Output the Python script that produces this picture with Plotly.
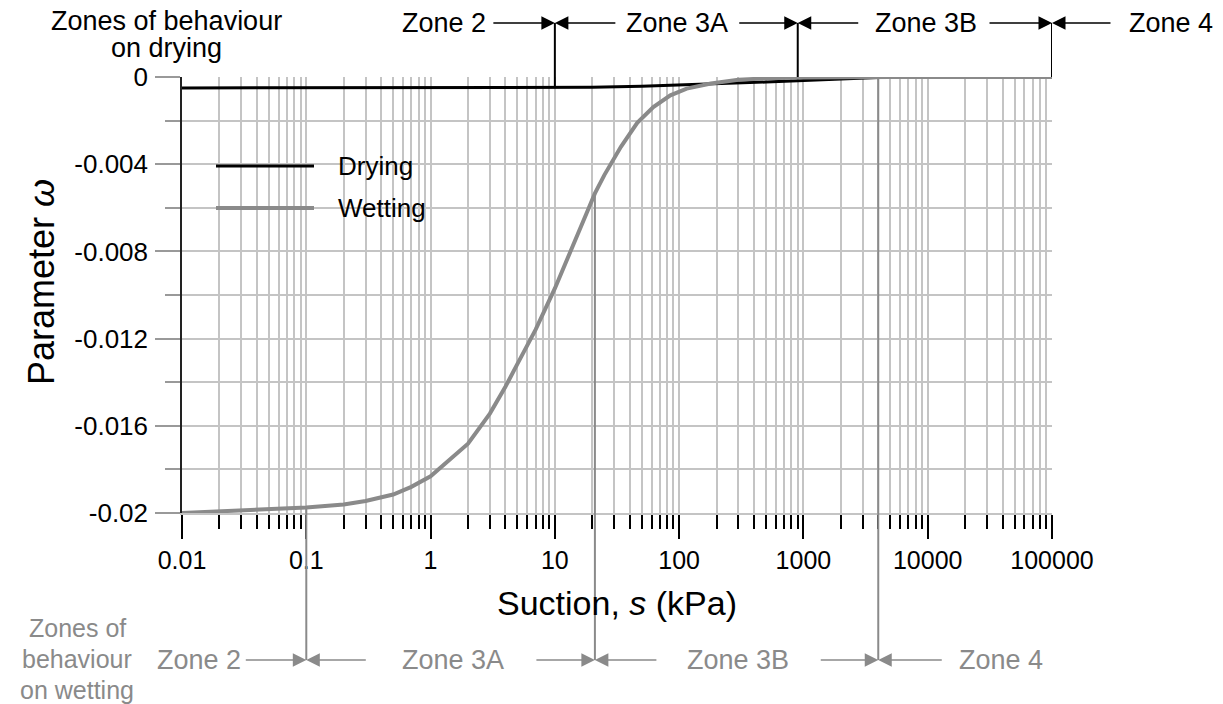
import plotly.graph_objects as go
import math

# ---------------- data ----------------
dry_s = [0.01, 0.1, 1, 3, 10, 20, 50, 100, 200, 500, 900, 2000, 4000, 10000, 100000]
dry_w = [-0.0005, -0.0005, -0.0005, -0.00049, -0.00048, -0.00047, -0.00043, -0.00038,
         -0.00031, -0.00023, -0.00017, -0.00008, -0.00002, 0.0, 0.0]

wet_s = [0.01, 0.02, 0.05, 0.1, 0.2, 0.3, 0.5, 0.7, 1, 2, 3, 4, 5, 7, 10, 13, 18, 21, 25,
         34, 46, 62, 85, 115, 180, 300, 500, 1000, 2000, 5000, 10000, 100000]
wet_w = [-0.0200, -0.01993, -0.01984, -0.01975, -0.01961, -0.01945, -0.01915, -0.01880,
         -0.01832, -0.01682, -0.01544, -0.01421, -0.01316, -0.01159, -0.00970, -0.00820,
         -0.00625, -0.00534, -0.00450, -0.00320, -0.00210, -0.00138, -0.00084, -0.00053,
         -0.00030, -0.00013, -0.00006, -0.00002, 0.0, 0.0, 0.0, 0.0]

x_tick_vals = [0.01, 0.1, 1, 10, 100, 1000, 10000, 100000]
x_tick_text = ["0.01", "0.1", "1", "10", "100", "1000", "10000", "100000"]
y_tick_vals = [-0.02, -0.016, -0.012, -0.008, -0.004, 0]
y_tick_text = ["-0.02", "-0.016", "-0.012", "-0.008", "-0.004", "0"]
y_minor_vals = [-0.018, -0.014, -0.010, -0.006, -0.002]

zone_labels = ["Zone 2", "Zone 3A", "Zone 3B", "Zone 4"]
dry_bounds = [10, 900, 100000]
dry_bound_w = [-0.00048, -0.00017, 0.0]
wet_bounds = [0.1, 21, 4000]
wet_bound_w = [-0.01975, -0.0054, 0.0]

series_names = ["Drying", "Wetting"]
x_title = "Suction, <i>s</i> (kPa)"
y_title = "Parameter <i>ω</i>"

# ---------------- styling / layout ----------------
W, H = 1223, 704
ML, MR, MT, MB = 182, 171, 77, 191
PW, PH = W - ML - MR, H - MT - MB
FONT = "Liberation Sans, Arial, sans-serif"
BLACK = "#000000"
GREY = "#8a8a8a"
GRID = "#c4c4c4"


def px(xp):
    return (xp - ML) / PW


def py(yp):
    return (H - MB - yp) / PH


x_minor = [m * 10 ** k for k in range(-2, 5) for m in range(2, 10)]

fig = go.Figure()
fig.add_trace(go.Scatter(x=dry_s, y=dry_w, mode="lines", name=series_names[0],
                         line=dict(color=BLACK, width=3), showlegend=False))
fig.add_trace(go.Scatter(x=wet_s, y=wet_w, mode="lines", name=series_names[1],
                         line=dict(color=GREY, width=4), showlegend=False))

shapes = []
annotations = []

# manual legend (long line samples as in the reference)
for i, (name, col, wd) in enumerate([(series_names[0], BLACK, 3), (series_names[1], GREY, 4)]):
    yy = py(166 + 42 * i)
    shapes.append(dict(type="line", xref="paper", yref="paper", x0=px(216), x1=px(314),
                       y0=yy, y1=yy, line=dict(color=col, width=wd), layer="above"))
    annotations.append(dict(xref="paper", yref="paper", x=px(336), y=yy, text=name,
                            showarrow=False, xanchor="left", yanchor="middle",
                            font=dict(size=26, color=BLACK, family=FONT)))

# zone boundary lines: drying (top, black)
top_y = py(23)
for s, w in zip(dry_bounds, dry_bound_w):
    shapes.append(dict(type="line", xref="x", yref="paper", x0=s, x1=s, y0=1, y1=top_y,
                       line=dict(color=BLACK, width=2), layer="above"))
    shapes.append(dict(type="line", xref="x", yref="y", x0=s, x1=s, y0=0, y1=w,
                       line=dict(color=BLACK, width=2), layer="between"))
# wetting (bottom, grey)
bot_y = py(660)
for s, w in zip(wet_bounds, wet_bound_w):
    shapes.append(dict(type="line", xref="x", yref="paper", x0=s, x1=s, y0=0, y1=bot_y,
                       line=dict(color=GREY, width=2), layer="above"))
    shapes.append(dict(type="line", xref="x", yref="y", x0=s, x1=s, y0=-0.02, y1=w,
                       line=dict(color=GREY, width=2), layer="between"))


def arrow(s, yy, ax, col):
    return dict(xref="x", yref="paper", x=math.log10(s), y=yy, ax=ax, ay=0,
                axref="pixel", ayref="pixel", text="", showarrow=True,
                arrowhead=2, arrowsize=1.8, arrowwidth=1.5, arrowcolor=col, standoff=0)


# top arrows (pixel offsets of arrow tails from the boundary)
top_tails = [(-63, 62), (-60, 62), (-64, 60)]
for s, (a1, a2) in zip(dry_bounds, top_tails):
    annotations.append(arrow(s, top_y, a1, BLACK))
    annotations.append(arrow(s, top_y, a2, BLACK))
bot_tails = [(-62, 61), (-60, 63), (-59, 65)]
for s, (a1, a2) in zip(wet_bounds, bot_tails):
    annotations.append(arrow(s, bot_y, a1, GREY))
    annotations.append(arrow(s, bot_y, a2, GREY))

# zone labels
top_text_x = [488, 677, 926, 1171]
top_anchor = ["right", "center", "center", "center"]
for lab, xx, anc in zip(zone_labels, top_text_x, top_anchor):
    annotations.append(dict(xref="paper", yref="paper", x=px(xx), y=top_y, text=lab,
                            showarrow=False, xanchor=anc, yanchor="middle",
                            font=dict(size=27, color=BLACK, family=FONT)))
bot_text_x = [243, 452.5, 737.5, 1000.5]
for lab, xx, anc in zip(zone_labels, bot_text_x, top_anchor):
    annotations.append(dict(xref="paper", yref="paper", x=px(xx), y=bot_y, text=lab,
                            showarrow=False, xanchor=anc, yanchor="middle",
                            font=dict(size=27, color=GREY, family=FONT)))

# side captions
for txt, yp in [("Zones of behaviour", 21), ("on drying", 48)]:
    annotations.append(dict(xref="paper", yref="paper", x=px(166), y=py(yp), text=txt,
                            showarrow=False, xanchor="center", yanchor="middle",
                            font=dict(size=27, color=BLACK, family=FONT)))
for txt, yp in [("Zones of", 628), ("behaviour", 659), ("on wetting", 690)]:
    annotations.append(dict(xref="paper", yref="paper", x=px(77), y=py(yp), text=txt,
                            showarrow=False, xanchor="center", yanchor="middle",
                            font=dict(size=25, color=GREY, family=FONT)))

# y-axis title
annotations.append(dict(xref="paper", yref="paper", x=px(41), y=py(282), text=y_title,
                        textangle=-90, showarrow=False, xanchor="center", yanchor="middle",
                        font=dict(size=36, color=BLACK, family=FONT)))

fig.update_layout(
    width=W, height=H,
    margin=dict(l=ML, r=MR, t=MT, b=MB, pad=0),
    paper_bgcolor="white", plot_bgcolor="white",
    font=dict(family=FONT, size=25, color=BLACK),
    showlegend=False,
    shapes=shapes, annotations=annotations,
)
fig.update_xaxes(
    type="log", range=[-2, 5], automargin=False,
    tickmode="array", tickvals=x_tick_vals, ticktext=x_tick_text,
    ticks="outside", ticklen=24, tickwidth=2, tickcolor=BLACK,
    tickfont=dict(size=25, color=BLACK, family=FONT),
    showgrid=True, gridcolor=GRID, gridwidth=2,
    minor=dict(tickmode="array", tickvals=x_minor, ticks="outside", ticklen=14,
               tickwidth=2, tickcolor=BLACK, showgrid=True, gridcolor=GRID, gridwidth=2),
    showline=True, linecolor=GRID, linewidth=2,
    title=dict(text=x_title, font=dict(size=34, color=BLACK, family=FONT), standoff=18),
)
fig.update_yaxes(
    range=[-0.02, 0], automargin=False, zeroline=False,
    tickmode="array", tickvals=y_tick_vals, ticktext=y_tick_text,
    ticks="outside", ticklen=25, tickwidth=2, tickcolor="#999999",
    tickfont=dict(size=26, color=BLACK, family=FONT), ticklabelstandoff=2,
    showgrid=True, gridcolor=GRID, gridwidth=2,
    minor=dict(tickmode="array", tickvals=y_minor_vals, ticks="outside", ticklen=15,
               tickwidth=2, tickcolor="#999999", showgrid=True, gridcolor=GRID, gridwidth=2),
    showline=True, linecolor="#222222", linewidth=1.5,
)

fig.write_html("out.html", config={"displayModeBar": False},
               post_script="document.body.style.margin='0px';document.body.style.padding='0px';")
